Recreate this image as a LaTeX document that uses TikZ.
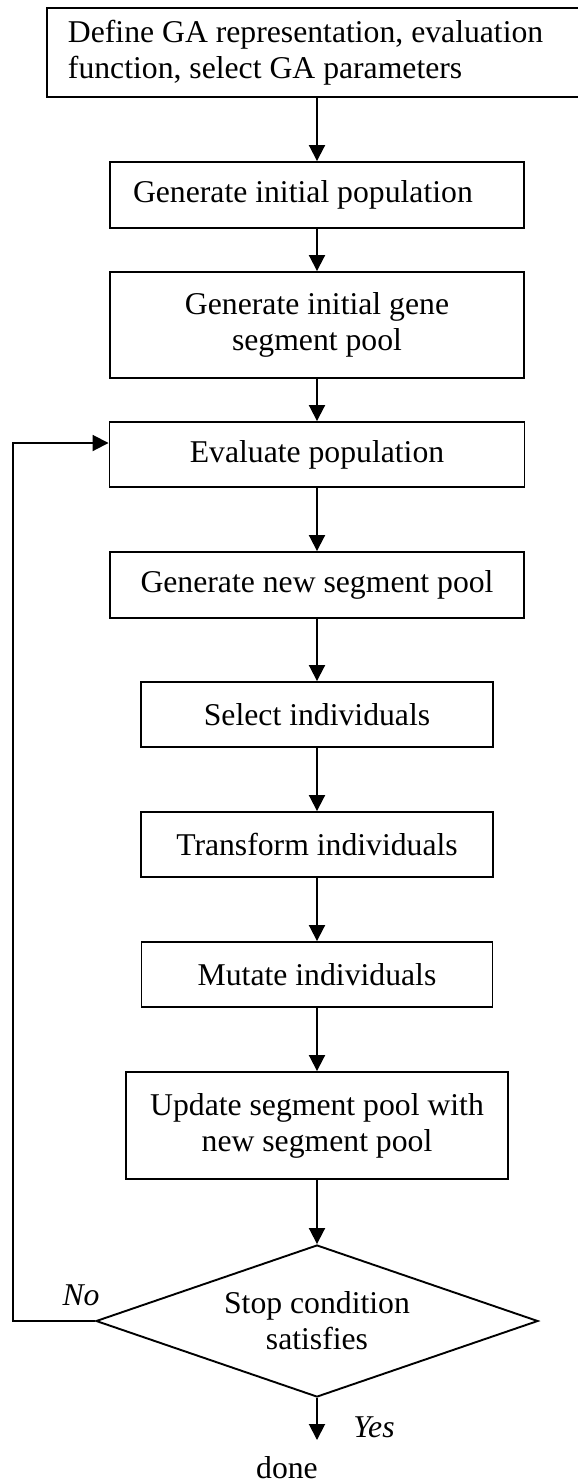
\documentclass[tikz,border=0pt]{standalone}
\usepackage{fontspec}
\setmainfont{Liberation Serif}
\usetikzlibrary{shapes.geometric,arrows.meta}
\begin{document}
\begin{tikzpicture}[x=1pt,y=-1pt,
  font=\fontsize{31.7}{36}\selectfont,
  box/.style={draw,line width=1.9pt,inner sep=0pt,align=center},
  arr/.style={line width=1.9pt,-{Triangle[length=16pt,width=16pt]}},
  lab/.style={font=\fontsize{31.7}{36}\selectfont\itshape,inner sep=0pt}]
\useasboundingbox (0,0) rectangle (578,1484);

% process steps
\node[box,minimum width=554pt,minimum height=89pt,text width=512pt,align=flush left,
      inner xsep=21pt,anchor=west] (def) at (46,52.5)
  {Define GA representation, evaluation\\function, select GA parameters};
\node[box,minimum width=414pt,minimum height=66pt,text width=368pt,align=flush left,
      inner xsep=23pt] (pop) at (317,195)
  {Generate initial population};
\node[box,minimum width=414pt,minimum height=106pt] (pool) at (317,325)
  {Generate initial gene\\segment pool};
\node[box,minimum width=415pt,minimum height=65pt] (eval) at (317,454.5)
  {Evaluate population};
\node[box,minimum width=414pt,minimum height=66pt] (newpool) at (317,585)
  {Generate new segment pool};
\node[box,minimum width=352pt,minimum height=65pt] (sel) at (317,714.5)
  {Select individuals};
\node[box,minimum width=352pt,minimum height=65pt] (trans) at (317,844.5)
  {Transform individuals};
\node[box,minimum width=351pt,minimum height=65pt] (mut) at (317,974.5)
  {Mutate individuals};
\node[box,minimum width=382pt,minimum height=107pt] (upd) at (317,1125.5)
  {Update segment pool with\\new segment pool};
\node[draw,diamond,line width=1.9pt,aspect=2.9,minimum width=442pt,
      minimum height=152pt,inner sep=0pt,align=center] (dec) at (317,1321)
  {Stop condition\\satisfies};

% end of the loop
\coordinate (tip) at (317,1440);
\node[inner sep=0pt,anchor=base] (done) at (287,1478) {done};
\node[lab,anchor=base] (yes) at (374,1437) {Yes};
\node[lab,anchor=base] (no) at (81,1305) {No};
\coordinate (corner) at (13,1321);

% connectors
\draw[arr] (pop.north |- def.south) -- (pop.north);
\draw[arr] (pop.south) -- (pool.north);
\draw[arr] (pool.south) -- (eval.north);
\draw[arr] (eval.south) -- (newpool.north);
\draw[arr] (newpool.south) -- (sel.north);
\draw[arr] (sel.south) -- (trans.north);
\draw[arr] (trans.south) -- (mut.north);
\draw[arr] (mut.south) -- (upd.north);
\draw[arr] (upd.south) -- (dec.north);
\draw[arr] (dec.south) -- (tip);
\draw[arr] (dec.west) -- (corner) |- ([yshift=11.5pt]eval.west);
\end{tikzpicture}
\end{document}
